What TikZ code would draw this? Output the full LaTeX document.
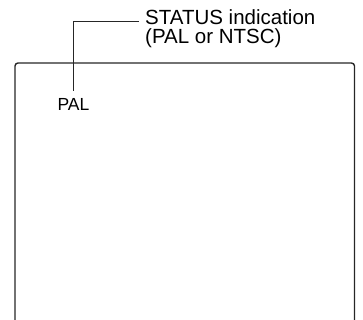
\documentclass[tikz,border=0pt]{standalone}
\usepackage{fontspec}
\setmainfont{Liberation Sans}
\begin{document}
\begin{tikzpicture}[x=1pt,y=1pt,
  callout/.style={font=\fontsize{20.5}{19}\selectfont, inner sep=0pt, align=left, anchor=base west},
  screenlabel/.style={font=\fontsize{17.5}{18}\selectfont, inner sep=0pt, outer sep=8pt, anchor=base},
  leader/.style={line width=0.9pt, draw=black!85},
  screen/.style={line width=1.4pt, draw=black!85, rounded corners=3pt}]
\useasboundingbox (0,0) rectangle (363,-320);
\clip (0,0) rectangle (363,-320);
\draw[screen] (15,-340) -- (15,-63) -- (354.5,-63) -- (354.5,-340);
\node[callout] (lbl) at (145,-44) {STATUS indication\\(PAL or NTSC)};
\node[screenlabel] (pal) at (73.5,-111) {PAL};
\coordinate (lead) at (139,-21);
\draw[leader] (lead) -| (pal.north);
\end{tikzpicture}
\end{document}
